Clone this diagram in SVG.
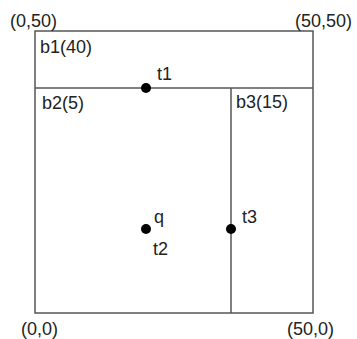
<svg xmlns="http://www.w3.org/2000/svg" width="357" height="339" viewBox="0 0 357 339">
<style>
text{font-family:"Liberation Sans",Arial,sans-serif;font-size:18px;fill:#222}
.ln{stroke:#555;stroke-width:1.5;fill:none}
.dot{fill:#000}
</style>
<rect width="357" height="339" fill="#fff"/>
<g id="connectors">
<rect class="ln" x="35" y="31" width="278" height="282"/>
<line class="ln" x1="35" y1="88" x2="313" y2="88"/>
<line class="ln" x1="231" y1="88" x2="231" y2="313"/>
</g>
<g id="corners">
<text x="10" y="27">(0,50)</text>
<text x="295" y="27">(50,50)</text>
<text x="21" y="335">(0,0)</text>
<text x="287" y="335">(50,0)</text>
</g>
<g id="b1"><text x="40" y="53">b1(40)</text></g>
<g id="b2"><text x="42" y="109">b2(5)</text></g>
<g id="b3"><text x="236" y="108">b3(15)</text></g>
<g id="t1"><circle class="dot" cx="146" cy="88" r="5"/><text x="157" y="80">t1</text></g>
<g id="t2"><circle class="dot" cx="146" cy="229" r="5"/><text x="154" y="223">q</text><text x="153" y="255">t2</text></g>
<g id="t3"><circle class="dot" cx="231" cy="229" r="5"/><text x="242" y="223">t3</text></g>
</svg>
